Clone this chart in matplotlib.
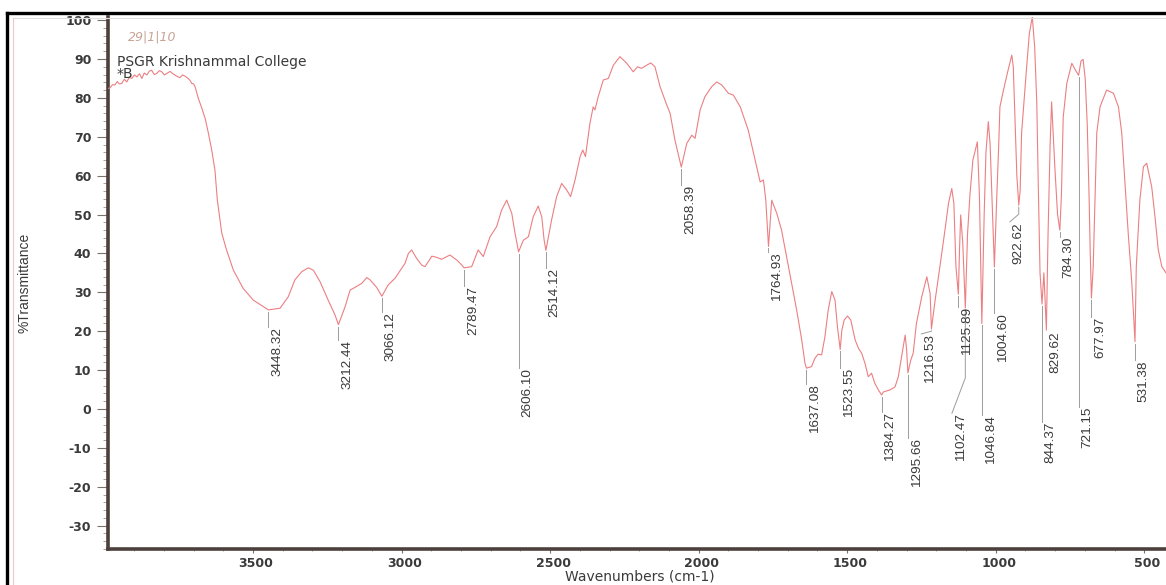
import matplotlib
matplotlib.use("Agg")
import matplotlib.pyplot as plt
from matplotlib.lines import Line2D
from matplotlib.ticker import MultipleLocator
from matplotlib.transforms import ScaledTranslation
import numpy as np

plt.rcParams['axes.unicode_minus'] = False

W, H, DPI = 1166, 585, 100

# FTIR trace: wavenumber (cm-1) and %T
wavenumber = [
    3988, 3981, 3973, 3965, 3957, 3950, 3942, 3933, 3925, 3916, 3908, 3899,
    3891, 3882, 3874, 3866, 3857, 3849, 3841, 3832, 3824, 3815, 3807, 3798,
    3790, 3779, 3768, 3757, 3746, 3737, 3729, 3718, 3712, 3706, 3700, 3695,
    3684, 3672, 3661, 3650, 3639, 3628, 3620, 3605, 3589, 3566, 3533, 3499,
    3465, 3448.32, 3409, 3381, 3359, 3336, 3314, 3297, 3274, 3247, 3224,
    3212.44, 3190, 3173, 3156, 3134, 3117, 3106, 3084, 3066.12, 3045, 3022,
    2988, 2977, 2966, 2949, 2932, 2921, 2898, 2882, 2865, 2837, 2814, 2797,
    2789.47, 2764, 2742, 2725, 2702, 2680, 2663, 2646, 2629, 2618, 2606.10,
    2590, 2573, 2557, 2540, 2528, 2520, 2514.12, 2495, 2478, 2461, 2444,
    2431, 2416, 2399, 2390, 2381, 2375, 2366, 2355, 2349, 2338, 2321, 2304,
    2287, 2265, 2242, 2220, 2206, 2192, 2175, 2161, 2147, 2130, 2107, 2096,
    2080, 2058.39, 2040, 2023, 2012, 1995, 1979, 1956, 1939, 1922, 1900,
    1883, 1860, 1833, 1810, 1793, 1782, 1774, 1764.93, 1754, 1737, 1721,
    1704, 1687, 1670, 1653, 1642, 1637.08, 1620, 1609, 1598, 1586, 1575,
    1564, 1552, 1541, 1533, 1523.55, 1518, 1510, 1499, 1488, 1473, 1462,
    1451, 1440, 1429, 1418, 1407, 1395, 1384.27, 1378, 1356, 1339, 1328,
    1317, 1305, 1300, 1295.66, 1286, 1278, 1267, 1249, 1232, 1221, 1216.53,
    1204, 1188, 1171, 1159, 1148, 1141, 1134, 1125.89, 1122, 1118, 1111,
    1102.47, 1095, 1087, 1077, 1062, 1055, 1046.84, 1039, 1033, 1025, 1019,
    1013, 1004.60, 997, 990, 986, 974, 959, 946, 941, 935, 929, 922.62, 918,
    913, 896, 887, 877, 869, 862, 857, 851, 844.37, 838, 829.62, 824, 817,
    812, 801, 792, 784.30, 779, 773, 761, 744, 733, 721.15, 713, 706, 699,
    692, 686, 682, 677.97, 672, 666, 660, 649, 627, 604, 587, 576, 565, 554,
    542, 531.38, 527, 515, 503, 492, 475, 464, 453, 441, 427,
]
transmittance = [
    82.4, 82.6, 83.4, 83.3, 84.2, 83.6, 83.7, 84.8, 84.1, 85.3, 85.0, 85.9,
    85.4, 86.2, 85.0, 86.4, 85.9, 86.9, 87.1, 86.0, 86.3, 87.0, 86.7, 85.9,
    86.3, 86.8, 86.1, 85.6, 85.2, 85.9, 85.6, 85.0, 84.5, 83.7, 83.6, 82.9,
    79.9, 77.3, 74.7, 70.9, 66.6, 61.4, 53.7, 45.2, 40.9, 35.7, 31.0, 28.0,
    26.3, 25.5, 25.9, 28.9, 33.2, 35.3, 36.3, 35.7, 32.7, 28.0, 24.2,
    21.7, 26.3, 30.6, 31.3, 32.3, 33.8, 33.2, 31.3, 29.0, 31.9, 33.6,
    37.5, 40.0, 40.9, 38.7, 37.0, 36.6, 39.3, 39.0, 38.5, 39.6, 38.3, 37.0,
    36.3, 36.6, 40.9, 39.2, 44.3, 46.9, 51.2, 53.7, 50.3, 45.2, 40.4,
    43.4, 44.3, 49.4, 52.2, 49.4, 43.4, 40.8, 48.6, 54.6, 58.0, 56.3,
    54.6, 58.9, 64.9, 66.6, 64.9, 68.3, 73.4, 77.7, 76.9, 80.3, 84.6, 85.0,
    88.4, 90.6, 88.9, 86.7, 88.0, 87.6, 88.4, 89.0, 88.0, 82.9, 78.1, 76.0,
    69.2, 62.2, 68.3, 70.4, 69.6, 76.9, 80.3, 82.9, 84.1, 83.3, 81.2,
    80.7, 77.7, 71.7, 64.0, 58.4, 58.9, 53.7, 41.8, 53.7, 50.3, 46.0,
    39.2, 32.3, 25.4, 17.7, 11.7, 10.5, 10.9, 13.0, 14.1, 13.9, 18.6,
    25.4, 30.2, 28.0, 21.2, 15.3, 20.3, 22.9, 23.9, 22.9, 17.7, 15.6,
    14.3, 11.7, 8.3, 9.2, 6.6, 4.9, 3.6, 4.4, 4.9, 5.7, 8.3,
    13.4, 19.0, 15.2, 9.3, 12.6, 14.3, 22.0, 28.9, 34.0, 29.7, 20.6,
    28.0, 36.6, 46.0, 52.9, 56.7, 52.9, 36.6, 29.5, 40.9, 49.9, 42.6,
    26.0, 45.0, 55.0, 64.0, 68.7, 55.0, 22.0, 50.0, 66.0, 73.9, 68.0,
    55.0, 36.5, 53.7, 68.0, 77.7, 82.0, 87.0, 91.0, 88.0, 74.0, 60.0, 52.4, 56.0,
    71.0, 88.0, 96.5, 100.9, 93.0, 79.0, 58.0, 35.0, 27.0, 35.0, 20.3, 45.0, 68.0,
    79.0, 62.0, 50.0, 46.0, 55.0, 75.0, 83.7, 88.9, 87.3, 85.8, 89.5, 89.9, 85.0,
    73.0, 55.0, 40.0, 28.5, 36.6, 53.7, 71.0, 77.7, 82.0, 81.2, 77.7, 71.0, 58.0, 45.0,
    32.4, 17.3, 36.6, 53.7, 62.3, 63.2, 57.1, 49.4, 40.9, 36.6, 35.0,
]

# picked peaks (cm-1)
peak_wn = [
    3448.32, 3212.44, 3066.12, 2789.47, 2606.10, 2514.12, 2058.39, 1764.93,
    1637.08, 1523.55, 1384.27, 1295.66, 1216.53, 1125.89, 1102.47, 1046.84,
    1004.60, 922.62, 844.37, 829.62, 784.30, 721.15, 677.97, 531.38,
]

# label layout: %T at the top of each label, %T where the leader bends
# (None = straight drop) and the sideways move of the leader foot (cm-1)
label_top = [
    21.1, 17.7, 25.0, 31.6, 10.5, 36.2, 57.6, 40.4,
    6.4, 10.5, -0.7, -7.5, 19.3, 26.3, -1.1, -1.5,
    24.6, 48.1, -3.3, 19.9, 44.3, 0.6, 23.7, 12.6,
]
leader_bend = [
    None, None, None, None, None, None, None, None,
    None, None, None, None, 20.0, None, 8.0, None,
    None, 50.1, None, None, None, None, None, None,
]
leader_shift = [
    0, 0, 0, 0, 0, 0, 0, 0,
    0, 0, 0, 0, 34, 0, 45, 0,
    0, 30, 0, 0, 0, 0, 0, 0,
]

ink = '#3a3a3a'
axis_col = '#4b403c'
narrow = ['Liberation Sans Narrow', 'Liberation Sans', 'DejaVu Sans']

fig = plt.figure(figsize=(W / DPI, H / DPI), dpi=DPI)
fig.patch.set_facecolor('white')
ax = fig.add_axes([108 / W, 1 - 549 / H, 1 - 108 / W, (549 - 17) / H])
ax.set_facecolor('none')
ax.set_xlim(3988, 427)
ax.set_ylim(-36, 100.8)

ax.plot(wavenumber, transmittance, color='#ec7f82', lw=0.8, zorder=3)

# leaders + rotated peak labels
wn_up = np.array(wavenumber)[::-1]
t_up = np.array(transmittance)[::-1]
peak_t = np.interp(peak_wn, wn_up, t_up)
for wn, t, top, bend, shift in zip(peak_wn, peak_t, label_top, leader_bend, leader_shift):
    xs = [wn]
    ys = [t - 0.5]
    if bend is not None:
        xs.append(wn)
        ys.append(bend)
    xs.append(wn + shift)
    ys.append(top)
    ax.plot(xs, ys, color='#9c9c9c', lw=0.7, zorder=2)
    ax.annotate(f"{wn:.2f}", xy=(wn + shift, top), xytext=(2, 0),
                textcoords='offset points', rotation=90, ha='left', va='top',
                fontsize=9.7, family=narrow, color=ink)

for side in ['top', 'right']:
    ax.spines[side].set_visible(False)
for side in ['left', 'bottom']:
    ax.spines[side].set_color(axis_col)
    ax.spines[side].set_linewidth(2.6)

ax.xaxis.set_major_locator(MultipleLocator(500))
ax.xaxis.set_minor_locator(MultipleLocator(100))
ax.yaxis.set_major_locator(MultipleLocator(10))
ax.yaxis.set_minor_locator(MultipleLocator(2))
ax.tick_params(axis='y', which='major', length=8, width=0.8, color='#7a706c', pad=4,
               labelsize=9, labelcolor=ink)
ax.tick_params(axis='y', which='minor', length=3.5, width=0.6, color='#9a908c')
ax.tick_params(axis='x', which='major', length=3, width=0.8, color='#7a706c', pad=2.5,
               labelsize=9, labelcolor=ink)
ax.tick_params(axis='x', which='minor', length=1.5, width=0.6, color='#9a908c')
for lab in ax.get_yticklabels() + ax.get_xticklabels():
    lab.set_fontweight('bold')
    lab.set_family('DejaVu Sans')
for lab in ax.get_xticklabels():
    lab.set_transform(lab.get_transform() + ScaledTranslation(3 / DPI, 0, fig.dpi_scale_trans))

# axis titles
fig.text(640 / W, 1 - 584 / H, 'Wavenumbers (cm-1)', fontsize=10, color=ink,
         ha='center', va='bottom')
fig.text(25 / W, 1 - 283 / H, '%Transmittance', fontsize=10, family=narrow,
         color=ink, rotation=90, ha='center', va='center')

fig.text(117 / W, 1 - 62 / H, 'PSGR Krishnammal College', fontsize=10,
         color=ink, va='center', ha='left')
fig.text(117 / W, 1 - 74 / H, '*B', fontsize=10, color=ink, va='center', ha='left')
fig.text(128 / W, 1 - 37 / H, '29|1|10', fontsize=9, style='italic',
         color='#c9a396', va='center', ha='left')

# page frame
fig.add_artist(Line2D([7 / W, 1], [1 - 13 / H, 1 - 13 / H], color='black', lw=2.4,
                      transform=fig.transFigure))
fig.add_artist(Line2D([7 / W, 7 / W], [0, 1 - 13 / H], color='black', lw=2.4,
                      transform=fig.transFigure))
fig.add_artist(Line2D([13 / W, 1], [1 - 17.5 / H, 1 - 17.5 / H], color='#dedede', lw=0.8,
                      transform=fig.transFigure))
fig.add_artist(Line2D([13 / W, 13 / W], [0, 1 - 17.5 / H], color='#f0c8c8', lw=0.8,
                      transform=fig.transFigure))

fig.savefig('out.png', dpi=DPI)
